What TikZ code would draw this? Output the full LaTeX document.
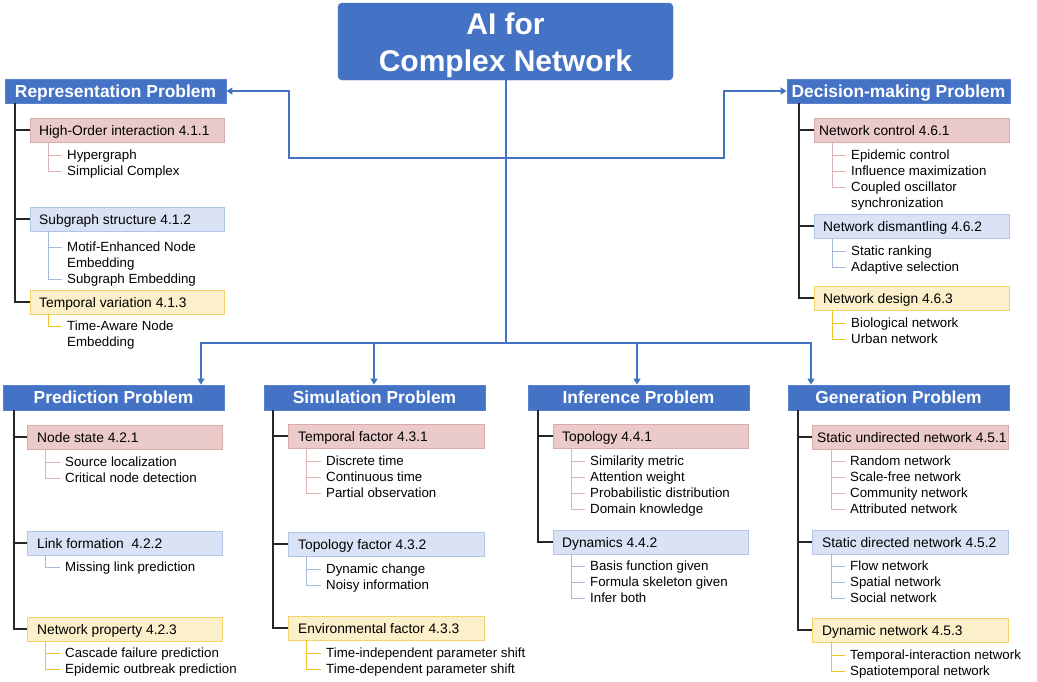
\documentclass[tikz,border=0pt]{standalone}
\usepackage{fontspec}
\setmainfont{Liberation Sans}
\usetikzlibrary{arrows.meta,calc}
\definecolor{hdrblue}{HTML}{4472C4}
\definecolor{hdrline}{HTML}{5A82CC}
\definecolor{redfill}{HTML}{EBCACA}
\definecolor{redline}{HTML}{D9ABAB}
\definecolor{redleaf}{HTML}{DFB3B3}
\definecolor{bluefill}{HTML}{DAE3F5}
\definecolor{blueline}{HTML}{B4C6E7}
\definecolor{blueleaf}{HTML}{A6B8DE}
\definecolor{yelfill}{HTML}{FBF0CA}
\definecolor{yelline}{HTML}{F5D36B}
\definecolor{yelleaf}{HTML}{F2C12E}
\definecolor{branchcol}{HTML}{262626}
\newcommand\mksub[7]{%
  \node[#2,minimum width=#5pt,anchor=west] (#1) at (#3,#4) {};
  \node[subtxt,anchor=west] (#1t) at ([xshift=#6pt]#1.west) {#7};}
\tikzset{
  titlebox/.style={fill=hdrblue,draw=hdrblue,rounded corners=4pt,minimum width=335pt,minimum height=77pt,inner sep=0pt},
  titletxt/.style={text=white,align=center,inner sep=0pt,font=\fontsize{30}{37}\selectfont\bfseries},
  hdr/.style={fill=hdrblue,draw=hdrline,line width=0.8pt,minimum height=24pt,inner sep=0pt,
    text=white,font=\fontsize{17.4}{20}\selectfont\bfseries,text height=12.5pt,text depth=0pt},
  subR/.style={fill=redfill,draw=redline,line width=0.8pt,minimum height=24pt,inner sep=0pt},
  subB/.style={fill=bluefill,draw=blueline,line width=0.8pt,minimum height=24pt,inner sep=0pt},
  subY/.style={fill=yelfill,draw=yelline,line width=0.8pt,minimum height=24pt,inner sep=0pt},
  subtxt/.style={inner sep=0pt,text=black,font=\fontsize{13.8}{16}\selectfont,text height=9.9pt,text depth=0pt,yshift=-1pt},
  item/.style={anchor=west,inner xsep=5pt,inner ysep=0pt,text=black,font=\fontsize{13.3}{16}\selectfont,
    text height=9.5pt,text depth=2.8pt,yshift=-1.8pt},
  plain/.style={anchor=west,inner xsep=0pt,inner ysep=0pt,text=black,font=\fontsize{13.3}{16}\selectfont,
    text height=9.5pt,text depth=2.8pt,yshift=-1.8pt},
  leafR/.style={draw=redleaf,line width=1pt},
  leafB/.style={draw=blueleaf,line width=1pt},
  leafY/.style={draw=yelleaf,line width=1pt},
  branch/.style={draw=branchcol,line width=1.4pt},
  conn/.style={draw=hdrblue,line width=1.5pt},
  arr/.style={-{Triangle[length=6pt,width=7pt]}},
}
\begin{document}
\begin{tikzpicture}[x=1pt,y=-1pt]
\useasboundingbox (0,0) rectangle (1037,681);
\fill[white] (0,0) rectangle (1037,681);

% title and headers
\node[titlebox] (top) at (505.5,41.5) {};
\node[titletxt] (topt) at (505.5,45) {AI for\\Complex Network};
\node[hdr,minimum width=221pt] (rep) at (115.5,91) {Representation Problem};
\node[hdr,minimum width=223pt] (dec) at (898.5,91) {Decision-making Problem};
\node[hdr,minimum width=221pt,minimum height=25pt] (pred) at (113.5,397.5) {Prediction Problem};
\node[hdr,minimum width=221pt,minimum height=25pt] (sim) at (374.5,397.5) {Simulation Problem};
\node[hdr,minimum width=221pt,minimum height=25pt] (inf) at (638.5,397.5) {Inference Problem};
\node[hdr,minimum width=221pt,minimum height=25pt] (gen) at (898.5,397.5) {Generation Problem};

% connectors
\coordinate (j1) at (506,158);
\coordinate (j2) at (506,343);
\coordinate (kl) at (289,158);
\coordinate (kr) at (724,158);
\coordinate (b1) at (201,343);
\coordinate (b2) at (374,343);
\coordinate (b3) at (637,343);
\coordinate (b4) at (811,343);
\draw[conn] (top.south -| j1) -- (j2);
\draw[conn,arr] (j1) -- (kl) -- (kl |- rep.east) -- (rep.east);
\draw[conn,arr] (j1) -- (kr) -- (kr |- dec.west) -- (dec.west);
\draw[conn,arr] (j2) -- (b1) -- (b1 |- pred.north);
\draw[conn,arr] (j2) -- (b2) -- (b2 |- sim.north);
\draw[conn,arr] (j2) -- (b3) -- (b3 |- inf.north);
\draw[conn,arr] (j2) -- (b4) -- (b4 |- gen.north);

% ---------- Representation ----------
\mksub{r1}{subR}{30}{130}{194}{9}{High-Order interaction 4.1.1}
\mksub{r2}{subB}{30}{219}{194}{9}{Subgraph structure 4.1.2}
\mksub{r3}{subY}{30}{302}{194}{9}{Temporal variation 4.1.3}
\foreach \b in {r1,r2,r3} \draw[branch] (rep.south -| 15,0) |- (\b.west);
\foreach \n/\y/\t in {r1a/154/Hypergraph, r1b/170/Simplicial Complex} {
  \node[item] (\n) at (62,\y) {\t}; \draw[leafR] (r1.south -| 48,0) |- (\n.west);}
\foreach \n/\y/\t in {r2a/246/Motif-Enhanced Node, r2b/278/Subgraph Embedding} {
  \node[item] (\n) at (62,\y) {\t}; \draw[leafB] (r2.south -| 48,0) |- (\n.west);}
\node[plain] (r2a2) at (67,262) {Embedding};
\node[item] (r3a) at (62,325) {Time-Aware Node};
\draw[leafY] (r3.south -| 48,0) |- (r3a.west);
\node[plain] (r3a2) at (67,341) {Embedding};

% ---------- Decision-making ----------
\mksub{d1}{subR}{814}{130}{195}{5}{Network control 4.6.1}
\mksub{d2}{subB}{814}{226}{195}{9}{Network dismantling 4.6.2}
\mksub{d3}{subY}{814}{298}{195}{9}{Network design 4.6.3}
\foreach \b in {d1,d2,d3} \draw[branch] (dec.south -| 799,0) |- (\b.west);
\foreach \n/\y/\t in {d1a/154/Epidemic control, d1b/170/Influence maximization, d1c/186/Coupled oscillator} {
  \node[item] (\n) at (846,\y) {\t}; \draw[leafR] (d1.south -| 832,0) |- (\n.west);}
\node[plain] (d1c2) at (851,202) {synchronization};
\foreach \n/\y/\t in {d2a/250/Static ranking, d2b/266/Adaptive selection} {
  \node[item] (\n) at (846,\y) {\t}; \draw[leafB] (d2.south -| 832,0) |- (\n.west);}
\foreach \n/\y/\t in {d3a/322/Biological network, d3b/338/Urban network} {
  \node[item] (\n) at (846,\y) {\t}; \draw[leafY] (d3.south -| 832,0) |- (\n.west);}

% ---------- Prediction ----------
\mksub{p1}{subR}{27}{437}{195}{10}{Node state 4.2.1}
\mksub{p2}{subB}{27}{543}{195}{10}{Link formation\ \ 4.2.2}
\mksub{p3}{subY}{27}{629}{195}{10}{Network property 4.2.3}
\foreach \b in {p1,p2,p3} \draw[branch] (pred.south -| 14,0) |- (\b.west);
\foreach \n/\y/\t in {p1a/461/Source localization, p1b/477/Critical node detection} {
  \node[item] (\n) at (60,\y) {\t}; \draw[leafR] (p1.south -| 45,0) |- (\n.west);}
\foreach \n/\y/\t in {p2a/566/Missing link prediction} {
  \node[item] (\n) at (60,\y) {\t}; \draw[leafB] (p2.south -| 45,0) |- (\n.west);}
\foreach \n/\y/\t in {p3a/652/Cascade failure prediction, p3b/668/Epidemic outbreak prediction} {
  \node[item] (\n) at (60,\y) {\t}; \draw[leafY] (p3.south -| 45,0) |- (\n.west);}

% ---------- Simulation ----------
\mksub{s1}{subR}{288}{436}{196}{10}{Temporal factor 4.3.1}
\mksub{s2}{subB}{288}{544}{196}{10}{Topology factor 4.3.2}
\mksub{s3}{subY}{288}{628}{196}{10}{Environmental factor 4.3.3}
\foreach \b in {s1,s2,s3} \draw[branch] (sim.south -| 273,0) |- (\b.west);
\foreach \n/\y/\t in {s1a/460/Discrete time, s1b/476/Continuous time, s1c/492/Partial observation} {
  \node[item] (\n) at (321,\y) {\t}; \draw[leafR] (s1.south -| 306,0) |- (\n.west);}
\foreach \n/\y/\t in {s2a/568/Dynamic change, s2b/584/Noisy information} {
  \node[item] (\n) at (321,\y) {\t}; \draw[leafB] (s2.south -| 306,0) |- (\n.west);}
\foreach \n/\y/\t in {s3a/652/Time-independent parameter shift, s3b/668/Time-dependent parameter shift} {
  \node[item] (\n) at (321,\y) {\t}; \draw[leafY] (s3.south -| 306,0) |- (\n.west);}

% ---------- Inference ----------
\mksub{i1}{subR}{553}{436}{195}{9}{Topology 4.4.1}
\mksub{i2}{subB}{553}{542}{195}{9}{Dynamics 4.4.2}
\foreach \b in {i1,i2} \draw[branch] (inf.south -| 538,0) |- (\b.west);
\foreach \n/\y/\t in {i1a/460/Similarity metric, i1b/476/Attention weight, i1c/492/Probabilistic distribution, i1d/508/Domain knowledge} {
  \node[item] (\n) at (585,\y) {\t}; \draw[leafR] (i1.south -| 571,0) |- (\n.west);}
\foreach \n/\y/\t in {i2a/565/Basis function given, i2b/581/Formula skeleton given, i2c/597/Infer both} {
  \node[item] (\n) at (585,\y) {\t}; \draw[leafB] (i2.south -| 571,0) |- (\n.west);}

% ---------- Generation ----------
\mksub{g1}{subR}{812}{437}{196}{5}{Static undirected network 4.5.1}
\mksub{g2}{subB}{812}{542}{196}{10}{Static directed network 4.5.2}
\mksub{g3}{subY}{812}{630}{196}{10}{Dynamic network 4.5.3}
\foreach \b in {g1,g2,g3} \draw[branch] (gen.south -| 798,0) |- (\b.west);
\foreach \n/\y/\t in {g1a/460/Random network, g1b/476/Scale-free network, g1c/492/Community network, g1d/508/Attributed network} {
  \node[item] (\n) at (845,\y) {\t}; \draw[leafR] (g1.south -| 831,0) |- (\n.west);}
\foreach \n/\y/\t in {g2a/565/Flow network, g2b/581/Spatial network, g2c/597/Social network} {
  \node[item] (\n) at (845,\y) {\t}; \draw[leafB] (g2.south -| 831,0) |- (\n.west);}
\foreach \n/\y/\t in {g3a/654/Temporal-interaction network, g3b/670/Spatiotemporal network} {
  \node[item] (\n) at (845,\y) {\t}; \draw[leafY] (g3.south -| 831,0) |- (\n.west);}
\end{tikzpicture}
\end{document}
